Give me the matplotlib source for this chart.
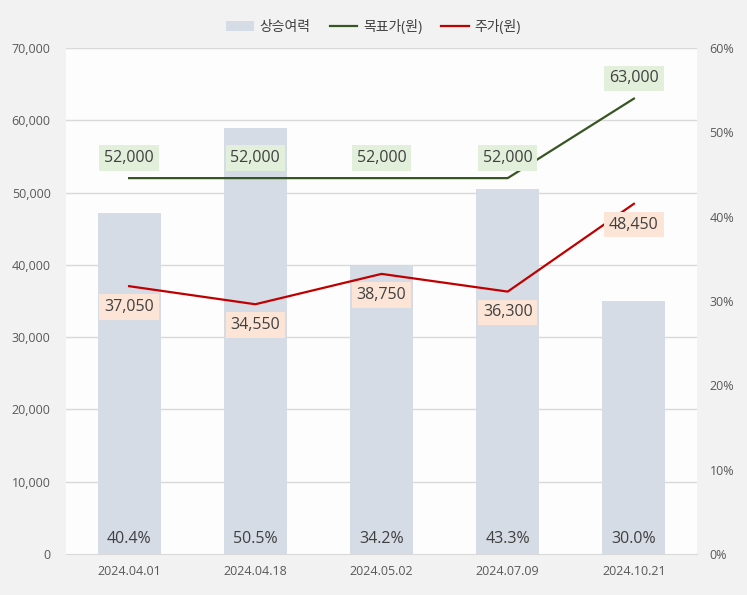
import matplotlib
matplotlib.use("Agg")
import matplotlib.pyplot as plt
from matplotlib.ticker import FuncFormatter, MultipleLocator
import numpy as np

plt.rcParams['font.family'] = ['Open Sans', 'Noto Sans CJK KR', 'DejaVu Sans']

dates = ["2024.04.01", "2024.04.18", "2024.05.02", "2024.07.09", "2024.10.21"]
upside = [40.4, 50.5, 34.2, 43.3, 30.0]          # 상승여력 (%)
target = [52000, 52000, 52000, 52000, 63000]      # 목표가(원)
price = [37050, 34550, 38750, 36300, 48450]       # 주가(원)

bar_color = "#d6dce5"
green = "#375623"
red = "#c00000"
txt = "#404040"
tick_c = "#595959"

fig = plt.figure(figsize=(7.47, 5.95), dpi=100, facecolor="#f2f2f2")
ax2 = fig.add_axes([66/747, 41/595, 631/747, 506/595])   # bars, right axis
ax = ax2.twinx()                                          # lines, left axis
ax.set_zorder(ax2.get_zorder() + 1)
ax.patch.set_visible(False)
ax2.set_facecolor("#fdfdfd")

x = np.arange(len(dates))

# bars
ax2.bar(x, [u / 100 for u in upside], width=0.5, color=bar_color, label="상승여력", zorder=2)
ax2.set_ylim(0, 0.6)
ax2.set_xlim(-0.5, len(dates) - 0.5)
ax2.yaxis.set_major_locator(MultipleLocator(0.1))
ax2.yaxis.set_major_formatter(FuncFormatter(lambda v, p: f"{v*100:.0f}%"))
ax2.yaxis.tick_right()
ax2.yaxis.set_label_position("right")

# gridlines (left axis values) behind bars
for gv in range(10000, 70001, 10000):
    ax2.axhline(gv / 70000 * 0.6, color="#d9d9d9", lw=1, zorder=1)

for i, u in enumerate(upside):
    ax2.annotate(f"{u:.1f}%", xy=(x[i], 0), xytext=(0, 11), textcoords="offset points",
                 ha="center", va="center", fontsize=11.5, color=txt, zorder=3)

# lines
ax.plot(x, target, color=green, lw=1.6, label="목표가(원)", zorder=3)
ax.plot(x, price, color=red, lw=1.6, label="주가(원)", zorder=3)
ax.set_ylim(0, 70000)
ax.yaxis.set_major_locator(MultipleLocator(10000))
ax.yaxis.set_major_formatter(FuncFormatter(lambda v, p: f"{v:,.0f}"))
ax.yaxis.tick_left()
ax.yaxis.set_label_position("left")

for i, v in enumerate(target):
    ax.annotate(f"{v:,}", xy=(x[i], v), xytext=(0, 14.5), textcoords="offset points",
                ha="center", va="center", fontsize=11.5, color=txt, zorder=5,
                bbox=dict(boxstyle="square,pad=0.3", fc="#e2efda", ec="none"))
for i, v in enumerate(price):
    ax.annotate(f"{v:,}", xy=(x[i], v), xytext=(0, -15), textcoords="offset points",
                ha="center", va="center", fontsize=11.5, color=txt, zorder=5,
                bbox=dict(boxstyle="square,pad=0.3", fc="#fce4d6", ec="none"))

ax2.set_xticks(x)
ax2.set_xticklabels(dates)

for a in (ax, ax2):
    for s in a.spines.values():
        s.set_visible(False)
    a.tick_params(length=0, colors=tick_c, labelsize=9)
ax2.spines["bottom"].set_visible(True)
ax2.spines["bottom"].set_color("#d9d9d9")
ax2.tick_params(axis="x", pad=8)
ax2.tick_params(axis="y", pad=9)
ax.tick_params(axis="y", pad=11)

h1, l1 = ax2.get_legend_handles_labels()
h2, l2 = ax.get_legend_handles_labels()
fig.legend(h1 + h2, l1 + l2, loc="center", bbox_to_anchor=(0.5, 568/595), ncol=3,
           frameon=False, fontsize=10, labelcolor=txt, handlelength=2.0,
           handleheight=0.7, columnspacing=1.4, handletextpad=0.4)

fig.savefig("out.png", dpi=100, facecolor=fig.get_facecolor())
